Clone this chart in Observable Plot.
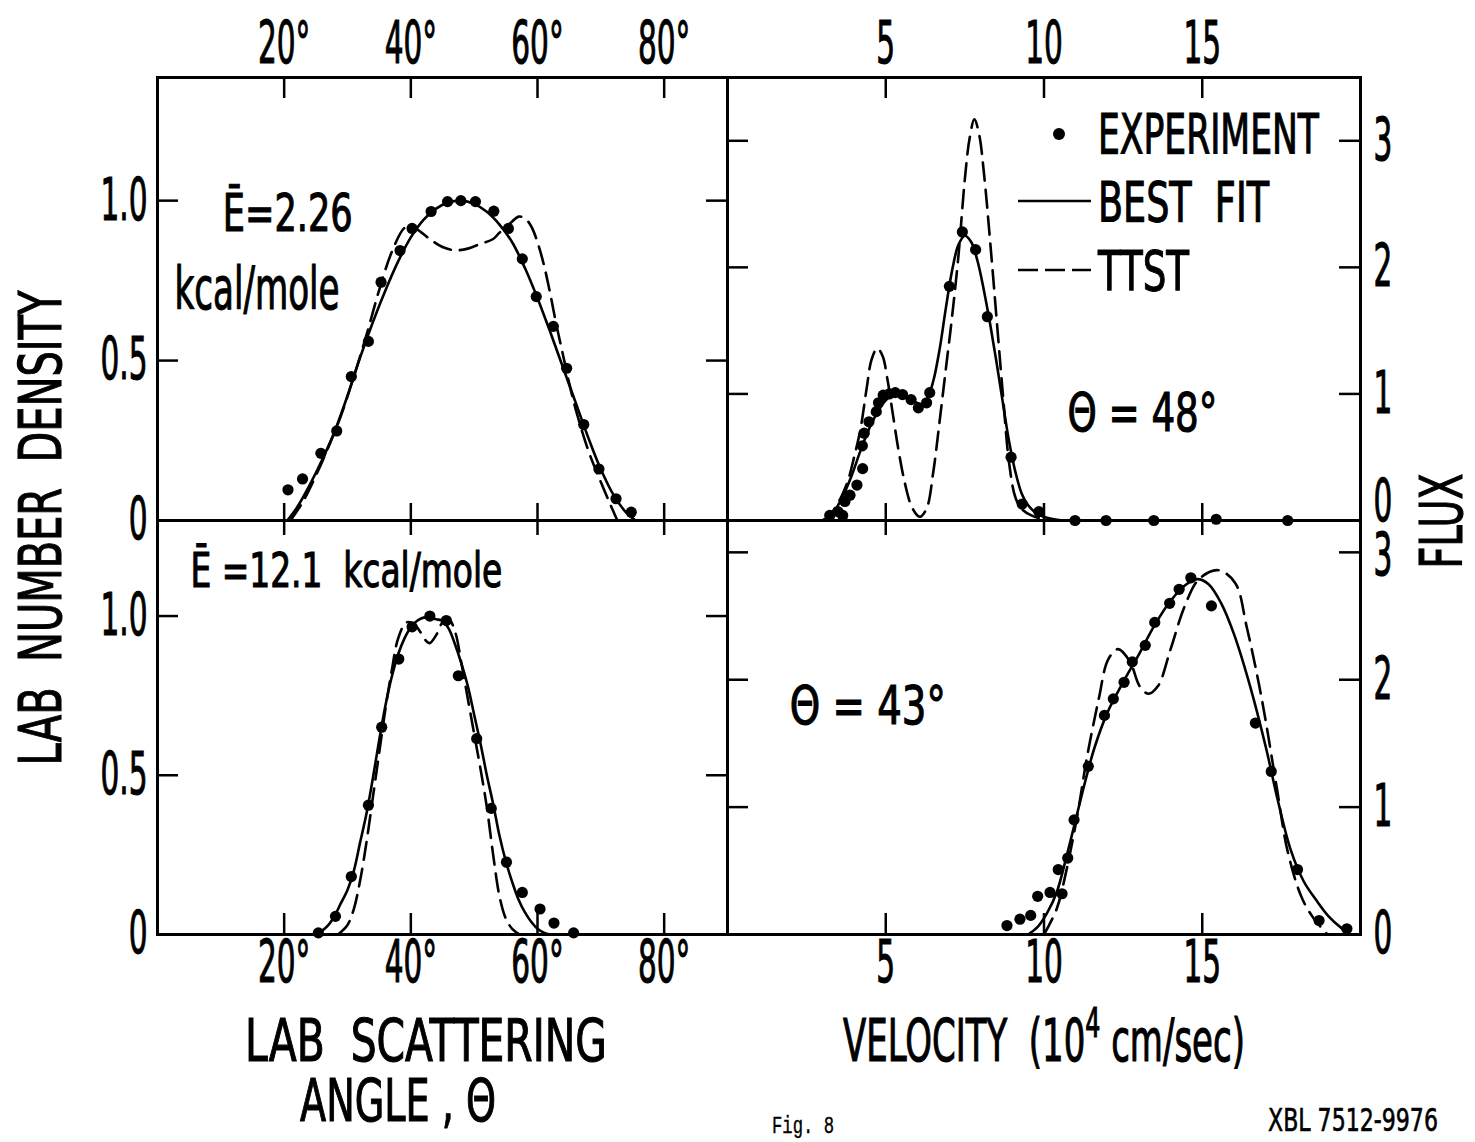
<!DOCTYPE html>
<html><head><meta charset="utf-8">
<script src="https://cdn.jsdelivr.net/npm/d3@7"></script>
<script src="https://cdn.jsdelivr.net/npm/@observablehq/plot@0.6"></script>
<style>
html,body{margin:0;padding:0;background:#fff;}
#page{position:relative;width:1475px;height:1142px;overflow:hidden;background:#fff;}
#page svg{position:absolute;left:0;top:0;overflow:visible;}
#page text{white-space:pre;}
</style></head><body><div id="page"></div>
<script>
// ---------- DATA ----------
// Top-left: E = 2.26 kcal/mole, lab angle (deg) vs lab number density
const tlExpX = [20.6, 22.9, 25.8, 28.3, 30.6, 33.3, 35.3, 38.3, 40.2, 43.2, 45.8, 47.9, 50.2, 53.1, 55.4, 57.6, 59.8, 62.5, 64.6, 67.3, 69.7, 72.4, 74.8];
const tlExpY = [0.096, 0.13, 0.21, 0.28, 0.45, 0.56, 0.745, 0.844, 0.913, 0.966, 0.997, 1.0, 0.997, 0.967, 0.913, 0.818, 0.70, 0.607, 0.476, 0.30, 0.161, 0.068, 0.026];
const tlFitX = [20.5, 22, 24, 26, 28, 30, 32, 34, 36, 38, 40, 42, 44, 46, 48, 50, 52, 54, 56, 58, 60, 62, 64, 66, 68, 70, 72, 74, 75.5];
const tlFitY = [0, 0.04, 0.11, 0.19, 0.28, 0.39, 0.51, 0.62, 0.72, 0.81, 0.885, 0.94, 0.975, 0.995, 1.0, 0.99, 0.965, 0.925, 0.87, 0.79, 0.695, 0.59, 0.48, 0.37, 0.26, 0.16, 0.08, 0.025, 0];
const tlTtstX = [21, 23, 25, 27, 29, 31, 33, 35, 37, 39, 40, 41, 43, 45, 47, 49, 51, 53, 54, 55, 56, 57, 58, 59, 60, 61, 62, 63, 64, 65, 66, 68, 70, 71.5, 72.6];
const tlTtstY = [0, 0.06, 0.14, 0.23, 0.33, 0.45, 0.58, 0.72, 0.84, 0.915, 0.92, 0.91, 0.88, 0.855, 0.845, 0.85, 0.865, 0.88, 0.9, 0.915, 0.935, 0.95, 0.945, 0.92, 0.87, 0.8, 0.71, 0.61, 0.52, 0.43, 0.35, 0.22, 0.12, 0.05, 0];

// Bottom-left: E = 12.1 kcal/mole
const blExpX = [25.4, 28.1, 30.6, 33.3, 35.4, 38.1, 40.2, 43.0, 45.6, 47.5, 50.4, 52.7, 55.1, 57.6, 60.4, 62.6, 65.7];
const blExpY = [0.005, 0.057, 0.182, 0.406, 0.651, 0.865, 0.966, 1.0, 0.986, 0.8125, 0.615, 0.396, 0.227, 0.132, 0.080, 0.036, 0.005];
const blFitX = [24.5, 26, 27, 28, 29, 30, 31, 32, 33, 34, 35, 36, 37, 38, 39, 40, 41, 42, 43, 44, 45, 46, 47, 48, 49, 50, 51, 52, 53, 54, 55, 56, 57, 58, 59, 60, 61, 62];
const blFitY = [0, 0.012, 0.03, 0.06, 0.1, 0.14, 0.2, 0.29, 0.38, 0.49, 0.61, 0.72, 0.81, 0.88, 0.93, 0.965, 0.985, 0.995, 0.995, 0.99, 0.985, 0.96, 0.91, 0.85, 0.78, 0.69, 0.6, 0.5, 0.41, 0.31, 0.23, 0.165, 0.11, 0.07, 0.04, 0.018, 0.006, 0];
const blTtstX = [28.5, 30, 31, 32, 33, 34, 35, 36, 37, 38, 39.3, 40.5, 41.5, 42.5, 43, 44, 45, 46, 47, 48, 49, 50, 51, 52, 53, 54, 55, 56, 57.2];
const blTtstY = [0, 0.03, 0.08, 0.17, 0.29, 0.43, 0.57, 0.71, 0.83, 0.93, 0.98, 0.975, 0.95, 0.92, 0.915, 0.94, 0.98, 0.99, 0.95, 0.85, 0.74, 0.63, 0.52, 0.4, 0.25, 0.12, 0.05, 0.018, 0];

// Top-right: theta = 48 deg, velocity (1e4 cm/s) vs flux
const trExpX = [3.23, 3.49, 3.64, 3.71, 3.87, 4.09, 4.27, 4.26, 4.32, 4.47, 4.70, 4.77, 4.92, 5.11, 5.30, 5.53, 5.80, 6.03, 6.29, 6.39, 7.01, 7.42, 7.84, 8.21, 8.96, 9.31, 9.84, 10.98, 11.96, 13.47, 15.44, 17.7];
const trExpY = [0.04, 0.07, 0.04, 0.15, 0.2, 0.28, 0.41, 0.59, 0.69, 0.78, 0.86, 0.93, 0.99, 1.0, 1.01, 0.995, 0.955, 0.89, 0.93, 1.01, 1.85, 2.28, 2.14, 1.61, 0.5, 0.13, 0.07, 0, 0, 0, 0.01, 0];
const trFitX = [3.0, 3.3, 3.6, 3.9, 4.2, 4.5, 4.8, 5.0, 5.3, 5.6, 5.9, 6.1, 6.3, 6.5, 6.7, 6.9, 7.1, 7.3, 7.5, 7.7, 7.9, 8.1, 8.3, 8.5, 8.7, 8.9, 9.1, 9.3, 9.5, 9.8, 10.2, 10.6];
const trFitY = [0, 0.05, 0.17, 0.34, 0.55, 0.74, 0.88, 0.95, 1.0, 0.985, 0.94, 0.92, 0.96, 1.1, 1.35, 1.68, 1.98, 2.18, 2.25, 2.2, 2.05, 1.82, 1.55, 1.25, 0.93, 0.62, 0.38, 0.21, 0.12, 0.05, 0.015, 0];
const trTtstX = [3.0, 3.2, 3.4, 3.6, 3.8, 4.0, 4.2, 4.4, 4.55, 4.73, 4.9, 5.05, 5.2, 5.4, 5.6, 5.8, 6.0, 6.1, 6.3, 6.5, 6.7, 6.9, 7.1, 7.3, 7.5, 7.65, 7.8, 7.95, 8.1, 8.3, 8.5, 8.7, 8.9, 9.1, 9.3, 9.6, 10.0, 10.3];
const trTtstY = [0, 0.03, 0.1, 0.19, 0.31, 0.5, 0.72, 1.05, 1.27, 1.36, 1.3, 1.12, 0.88, 0.56, 0.3, 0.12, 0.04, 0.03, 0.1, 0.38, 0.78, 1.2, 1.62, 2.1, 2.7, 3.02, 3.17, 3.05, 2.75, 2.2, 1.6, 1.0, 0.45, 0.18, 0.09, 0.04, 0.01, 0];

// Bottom-right: theta = 43 deg
const brExpX = [8.83, 9.24, 9.58, 9.80, 10.19, 10.57, 10.45, 10.75, 10.95, 11.4, 11.91, 12.19, 12.53, 12.79, 13.2, 13.5, 13.97, 14.27, 14.64, 15.29, 16.68, 17.18, 18.01, 18.69, 19.57];
const brExpY = [0.07, 0.12, 0.15, 0.30, 0.33, 0.32, 0.51, 0.60, 0.90, 1.32, 1.72, 1.85, 1.98, 2.14, 2.27, 2.45, 2.60, 2.71, 2.80, 2.58, 1.66, 1.28, 0.51, 0.11, 0.045];
const brFitX = [9.5, 9.8, 10.1, 10.4, 10.7, 11.0, 11.3, 11.6, 12.0, 12.5, 13.0, 13.5, 14.0, 14.5, 14.85, 15.2, 15.6, 16.0, 16.5, 17.0, 17.4, 17.8, 18.2, 18.6, 19.0, 19.4, 19.7];
const brFitY = [0, 0.06, 0.17, 0.33, 0.6, 0.9, 1.2, 1.47, 1.74, 1.98, 2.2, 2.43, 2.62, 2.75, 2.79, 2.75, 2.6, 2.36, 1.96, 1.48, 1.04, 0.66, 0.42, 0.27, 0.14, 0.05, 0];
const brTtstX = [10.0, 10.4, 10.67, 11.05, 11.35, 11.73, 12.03, 12.34, 12.72, 13.02, 13.3, 13.6, 14.0, 14.45, 14.9, 15.5, 16.04, 16.4, 16.88, 17.33, 17.71, 18.16, 18.54, 18.92];
const brTtstY = [0, 0.2, 0.46, 0.93, 1.38, 1.85, 2.16, 2.24, 2.14, 1.95, 1.89, 1.95, 2.24, 2.58, 2.79, 2.86, 2.76, 2.42, 1.85, 1.19, 0.64, 0.28, 0.12, 0.01];

// Ticks and tick labels
const angleTicks = [20, 40, 60, 80];
const velocityTicks = [5, 10, 15];
const densityTicks = [0.5, 1.0];
const densityLabels = [0, 0.5, 1.0];
const fluxTicks = [1, 2, 3];
const fluxLabels = [0, 1, 2, 3];

// Panel annotations (data coordinates)
const annotTL = [{t: "Ē=2.26", x: 10.3, y: 0.906, size: 52}, {t: "kcal/mole", x: 2.7, y: 0.6625, size: 58}];
const annotBL = [{t: "Ē =12.1  kcal/mole", x: 5.2, y: 1.09, size: 48}];
const annotTR = [{t: "Θ = 48°", x: 10.74, y: 0.71, size: 53}];
const annotBR = [{t: "Θ = 43°", x: 1.97, y: 1.655, size: 53}];
const annotWidths = new Map([["Ē=2.26", 130], ["kcal/mole", 165], ["Ē =12.1  kcal/mole", 312], ["Θ = 48°", 150], ["Θ = 43°", 156]]);

// ---------- LAYOUT ----------
const W = 1475, H = 1142;
const LX0 = 157, MX = 727, RX1 = 1360, TY0 = 77, MY = 520, BY1 = 934;
const FONT = '"Liberation Sans Narrow","DejaVu Sans Condensed","DejaVu Sans",sans-serif';
const TICK = 21, ITICK = 17, LABEL = 59, TEXT_STROKE = 1.1;
const zip = (xs, ys) => xs.map((x, i) => ({x, y: ys[i]}));
const fmtDensity = d => d === 0 ? "0" : d.toFixed(1);

function panel({x0, x1, y0, y1, xDomain, yDomain, xTicks, yTicks, topLen, botLen, xLabels, yLeft, yRight, exp, fit, ttst, annot}) {
  const iw = x1 - x0, ih = y1 - y0;
  const marks = [
    Plot.line(fit, {x: "x", y: "y", curve: "catmull-rom", stroke: "black", strokeWidth: 2.6}),
    Plot.line(ttst, {x: "x", y: "y", curve: "catmull-rom", stroke: "black", strokeWidth: 2.6, strokeDasharray: "18,9"}),
    Plot.dot(exp, {x: "x", y: "y", r: 5.6, fill: "black", stroke: null}),
    Plot.frame({stroke: "black", strokeWidth: 3}),
    Plot.tickX(xTicks, {x: d => d, insetBottom: ih - topLen, stroke: "black", strokeWidth: 2.5}),
    Plot.tickX(xTicks, {x: d => d, insetTop: ih - botLen, stroke: "black", strokeWidth: 2.5}),
    Plot.tickY(yTicks, {y: d => d, insetRight: iw - TICK, stroke: "black", strokeWidth: 2.5}),
    Plot.tickY(yTicks, {y: d => d, insetLeft: iw - TICK, stroke: "black", strokeWidth: 2.5}),
    Plot.text(annot, {x: "x", y: "y", text: "t", fontSize: d => d.size, textAnchor: "start", lineAnchor: "bottom", fill: "black"})
  ];
  if (xLabels) marks.push(Plot.text(xLabels.values, {x: d => d, text: xLabels.fmt, frameAnchor: xLabels.anchor, lineAnchor: "middle", dy: xLabels.dy, fontSize: LABEL, fill: "black"}));
  if (yLeft) marks.push(Plot.text(yLeft, {y: d => d, text: fmtDensity, frameAnchor: "left", textAnchor: "end", lineAnchor: "middle", dx: -10, fontSize: LABEL, fill: "black"}));
  if (yRight) {
    marks.push(Plot.text(yRight.filter(d => d !== 0 && d !== 3), {y: d => d, text: d => String(d), frameAnchor: "right", textAnchor: "start", lineAnchor: "middle", dx: 13, fontSize: LABEL, fill: "black"}));
    marks.push(Plot.text([3], {y: d => d, text: d => String(d), frameAnchor: "right", textAnchor: "start", lineAnchor: "middle", dx: 13, dy: yRight.threeDy, fontSize: LABEL, fill: "black"}));
    marks.push(Plot.text([0], {y: d => d, text: d => String(d), frameAnchor: "right", textAnchor: "start", lineAnchor: "middle", dx: 13, dy: yRight.zeroDy, fontSize: LABEL, fill: "black"}));
  }
  return Plot.plot({
    width: W, height: H,
    marginLeft: x0, marginRight: W - x1, marginTop: y0, marginBottom: H - y1,
    x: {domain: xDomain, axis: null}, y: {domain: yDomain, axis: null},
    style: {background: "transparent", fontFamily: FONT, overflow: "visible", color: "black"},
    marks
  });
}

const page = document.getElementById("page");
const deg = d => d + "°";
const trRight = fluxLabels.slice(); trRight.zeroDy = -18; trRight.threeDy = 0;
const brRight = fluxLabels.slice(); brRight.zeroDy = 0; brRight.threeDy = 4;

page.append(panel({x0: LX0, x1: MX, y0: TY0, y1: MY, xDomain: [0, 90], yDomain: [0, 1.385],
  xTicks: angleTicks, yTicks: densityTicks, topLen: TICK, botLen: ITICK,
  xLabels: {values: angleTicks, fmt: deg, anchor: "top", dy: -33}, yLeft: densityLabels,
  exp: zip(tlExpX, tlExpY), fit: zip(tlFitX, tlFitY), ttst: zip(tlTtstX, tlTtstY), annot: annotTL}));
page.append(panel({x0: MX, x1: RX1, y0: TY0, y1: MY, xDomain: [0, 20], yDomain: [0, 3.5],
  xTicks: velocityTicks, yTicks: fluxTicks, topLen: TICK, botLen: ITICK,
  xLabels: {values: velocityTicks, fmt: d => String(d), anchor: "top", dy: -33}, yRight: trRight,
  exp: zip(trExpX, trExpY), fit: zip(trFitX, trFitY), ttst: zip(trTtstX, trTtstY), annot: annotTR}));
page.append(panel({x0: LX0, x1: MX, y0: MY, y1: BY1, xDomain: [0, 90], yDomain: [0, 1.3],
  xTicks: angleTicks, yTicks: densityTicks, topLen: 15, botLen: TICK,
  xLabels: {values: angleTicks, fmt: deg, anchor: "bottom", dy: 29}, yLeft: densityLabels,
  exp: zip(blExpX, blExpY), fit: zip(blFitX, blFitY), ttst: zip(blTtstX, blTtstY), annot: annotBL}));
page.append(panel({x0: MX, x1: RX1, y0: MY, y1: BY1, xDomain: [0, 20], yDomain: [0, 3.25],
  xTicks: velocityTicks, yTicks: fluxTicks, topLen: 15, botLen: TICK,
  xLabels: {values: velocityTicks, fmt: d => String(d), anchor: "bottom", dy: 29}, yRight: brRight,
  exp: zip(brExpX, brExpY), fit: zip(brFitX, brFitY), ttst: zip(brTtstX, brTtstY), annot: annotBR}));

// ---------- condensed lettering: squeeze text horizontally ----------
const svgTexts = Array.from(page.querySelectorAll("svg text"));
const ref = svgTexts.find(t => t.textContent === "0.5");
const tickK = ref ? 47 / ref.getComputedTextLength() : 0.7;
svgTexts.forEach(t => {
  const s = t.textContent, w = t.getComputedTextLength();
  if (!w) return;
  const k = annotWidths.has(s) ? annotWidths.get(s) / w : tickK;
  t.setAttribute("transform", (t.getAttribute("transform") || "") + ` scale(${k},1)`);
  t.setAttribute("stroke", "black");
  t.setAttribute("stroke-width", TEXT_STROKE);
});

// ---------- titles, legend, footer ----------
const ov = d3.select(page).append("svg").attr("width", W).attr("height", H);
function label({x, y, text, size, width, anchor = "middle", rotate = 0, family = FONT, sup, weight = TEXT_STROKE}) {
  const t = ov.append("text").attr("font-family", family).attr("font-size", size)
    .attr("text-anchor", anchor).attr("y", 0.36 * size).attr("fill", "black")
    .attr("stroke", weight ? "black" : null).attr("stroke-width", weight || null);
  if (sup) {
    t.append("tspan").text(text[0]);
    t.append("tspan").attr("font-size", size * 0.7).attr("dy", -0.42 * size).text(sup);
    t.append("tspan").attr("dy", 0.42 * size).text(text[1]);
  } else t.text(text);
  const w = t.node().getComputedTextLength();
  const k = width ? width / w : 1;
  t.attr("transform", `translate(${x},${y}) rotate(${rotate}) scale(${k},1)`);
}
label({x: 40, y: 528, text: "LAB  NUMBER  DENSITY", size: 58, width: 475, rotate: -90});
label({x: 1441, y: 521, text: "FLUX", size: 58, width: 95, rotate: -90});
label({x: 426, y: 1040, text: "LAB  SCATTERING", size: 58, width: 362});
label({x: 398, y: 1100, text: "ANGLE , Θ", size: 58, width: 196});
label({x: 1044, y: 1040, text: ["VELOCITY  (10", " cm/sec)"], sup: "4", size: 58, width: 402});
label({x: 772, y: 1124, text: "Fig. 8", size: 24, width: 62, anchor: "start", weight: 0.4, family: '"Liberation Mono","DejaVu Sans Mono",monospace'});
label({x: 1268, y: 1119, text: "XBL 7512-9976", size: 32, width: 170, anchor: "start", weight: 0.6});

// legend
ov.append("circle").attr("cx", 1059).attr("cy", 134).attr("r", 6).attr("fill", "black");
ov.append("line").attr("x1", 1018).attr("x2", 1091).attr("y1", 201).attr("y2", 201).attr("stroke", "black").attr("stroke-width", 2.6);
ov.append("line").attr("x1", 1018).attr("x2", 1091).attr("y1", 270).attr("y2", 270).attr("stroke", "black").attr("stroke-width", 2.6).attr("stroke-dasharray", "20,7");
label({x: 1098, y: 133, text: "EXPERIMENT", size: 56, width: 221, anchor: "start"});
label({x: 1098, y: 201, text: "BEST  FIT", size: 56, width: 171, anchor: "start"});
label({x: 1098, y: 270, text: "TTST", size: 56, width: 91, anchor: "start"});
</script></body></html>
